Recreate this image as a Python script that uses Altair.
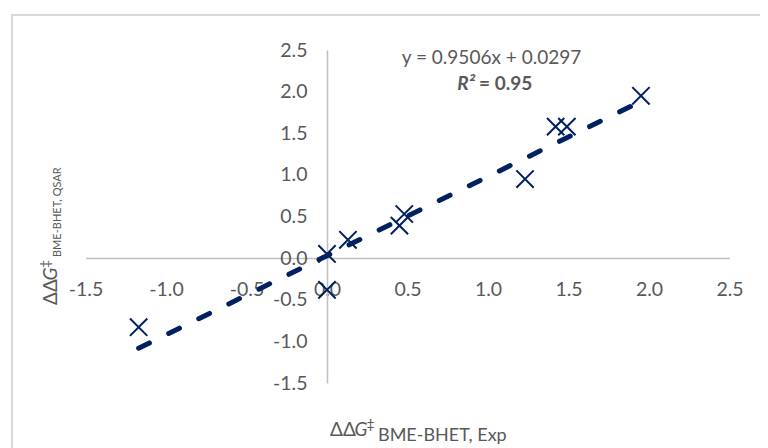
import altair as alt
import pandas as pd

# ---- data ----
x_exp = [-1.17, 0.00, 0.00, 0.13, 0.45, 0.48, 1.23, 1.42, 1.49, 1.95]
y_qsar = [-0.83, 0.05, -0.38, 0.22, 0.39, 0.53, 0.95, 1.58, 1.58, 1.95]
slope = 0.9506
intercept = 0.0297
axis_ticks = [-1.5, -1.0, -0.5, 0.0, 0.5, 1.0, 1.5, 2.0, 2.5]
eq_text = ["y = 0.9506x + 0.0297"]
r2_label = ["R²"]
r2_value = ["= 0.95"]
title_main = ["ΔΔ"]
title_g = ["G"]
title_dagger = ["‡"]
x_sub = ["BME-BHET, Exp"]
y_sub = ["BME-BHET, QSAR"]

df = pd.DataFrame({"x": x_exp, "y": y_qsar})

NAVY = "#002060"
GRAY = "#595959"
FONT = "Lato"

xscale = alt.Scale(domain=[-1.5, 2.5], nice=False, zero=False)
yscale = alt.Scale(domain=[-1.5, 2.5], nice=False, zero=False)

common_axis = dict(
    values=axis_ticks, format=".1f", labelExpr="replace(datum.label, '\u2212', '-')",
    ticks=False, tickSize=0, grid=False,
    domainColor="#BFBFBF", domainWidth=1.5, labelFontSize=19.5, labelColor=GRAY,
    labelFont=FONT, labelFlush=False, labelOverlap=False, title=None,
)
xaxis = alt.Axis(offset=-125, labelPadding=22, **common_axis)
yaxis = alt.Axis(offset=-241.5, labelPadding=20, **common_axis)

border = alt.Chart(pd.DataFrame({"a": [0]})).mark_rect(
    fillOpacity=0, stroke="#D9D9D9", strokeWidth=2
).encode(x=alt.value(-73.5), x2=alt.value(720), y=alt.value(-35), y2=alt.value(420))

line = alt.Chart(df).transform_calculate(
    fit=f"{slope}*datum.x+{intercept}"
).mark_line(
    color=NAVY, strokeWidth=5, strokeDash=[12, 21.5], strokeCap="round"
).encode(
    x=alt.X("x:Q", scale=xscale, axis=xaxis),
    y=alt.Y("fit:Q", scale=yscale, axis=yaxis),
    order="x:Q",
)

points = alt.Chart(df).mark_point(
    shape="M-1,-1L1,1M-1,1L1,-1", size=300, color=NAVY, strokeWidth=2,
    filled=False, opacity=1,
).encode(
    x=alt.X("x:Q", scale=xscale, axis=xaxis),
    y=alt.Y("y:Q", scale=yscale, axis=yaxis),
)


def txt(values, x, y, size=19, style="normal", weight="normal", align="left",
        baseline="middle", angle=0):
    return alt.Chart(pd.DataFrame({"t": values})).mark_text(
        font=FONT, fontSize=size, fontStyle=style, fontWeight=weight, color=GRAY,
        align=align, baseline=baseline, angle=angle,
    ).encode(x=alt.value(x), y=alt.value(y), text="t:N")


eq = txt(eq_text, 406, 8, align="center")
r2a = txt(r2_label, 389.5, 34, style="italic", weight="bold", align="right")
r2b = txt(r2_value, 393.5, 34, weight="bold", align="left")

# x title
xt1 = txt(title_main, 244.5, 380, size=19)
xt2 = txt(title_g, 269, 380, size=19, style="italic")
xt3 = txt(title_dagger, 281, 375, size=14)
xt4 = txt(x_sub, 292.5, 386, size=18)

# y title (rotated)
yt1 = txt(title_main, -34.5, 255, size=19, angle=270)
yt2 = txt(title_g, -34.5, 230.5, size=19, style="italic", angle=270)
yt3 = txt(title_dagger, -39.5, 218, size=14, angle=270)
yt4 = txt(y_sub, -27.5, 207, size=11, angle=270)

chart = alt.layer(
    border, line, points, eq, r2a, r2b, xt1, xt2, xt3, xt4, yt1, yt2, yt3, yt4
).properties(
    width=644, height=333,
    padding={"left": 77.5, "top": 42, "right": 30.5, "bottom": 65},
    autosize=alt.AutoSizeParams(type="none"),
).configure_view(stroke=None)

chart.save("out.html", embed_options={"renderer": "svg", "actions": False})
